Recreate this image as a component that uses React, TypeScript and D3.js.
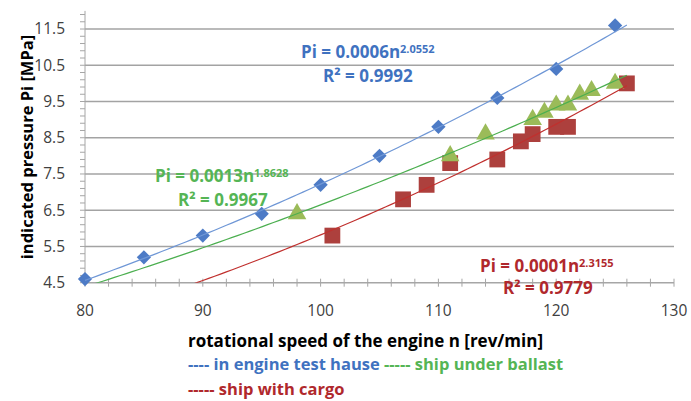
import React from "react";
import * as d3 from "d3";

// readings taken off the original figure
const engineN = [80, 85, 90, 95, 100, 105, 110, 115, 120, 125];
const enginePi = [4.6, 5.2, 5.8, 6.4, 7.2, 8.0, 8.8, 9.6, 10.4, 11.6];
const ballastN = [98, 111, 114, 118, 119, 120, 121, 122, 123, 125];
const ballastPi = [6.4, 8.0, 8.6, 9.0, 9.2, 9.4, 9.4, 9.7, 9.8, 10.0];
const cargoN = [101, 107, 109, 111, 115, 117, 118, 120, 121, 126];
const cargoPi = [5.8, 6.8, 7.2, 7.8, 7.9, 8.4, 8.6, 8.8, 8.8, 10.0];

const xTicks = [80, 90, 100, 110, 120, 130];
const yTicks = [4.5, 5.5, 6.5, 7.5, 8.5, 9.5, 10.5, 11.5];
const trendRange = [80, 126];

const eqCoef = ["0.0006", "0.0013", "0.0001"];
const eqExp = ["2.0552", "1.8628", "2.3155"];
const eqR2 = ["0.9992", "0.9967", "0.9779"];

const W = 691;
const H = 401;
const margin = { left: 85, right: 17, top: 10.9, bottom: 118.3 };
const font = "'Open Sans', 'DejaVu Sans', sans-serif";

// Excel style power trendline: least squares on ln(y) = ln(a) + b ln(x)
function powerFit(xs, ys) {
    const lx = xs.map(Math.log);
    const ly = ys.map(Math.log);
    const mx = d3.mean(lx);
    const my = d3.mean(ly);
    const b = d3.sum(lx, (v, i) => (v - mx) * (ly[i] - my)) / d3.sum(lx, v => (v - mx) ** 2);
    const a = Math.exp(my - b * mx);
    return (n) => a * Math.pow(n, b);
}

function Equation({ x, y, color, coef, exp, r2, r2dx, gap = 24 }) {
    return (
        <g fill={color} fontFamily={font} fontWeight="bold">
            <text x={x} y={y} fontSize="17px">
                Pi = {coef}n
                <tspan fontSize="11px" dy="-5">{exp}</tspan>
            </text>
            <text x={x + r2dx} y={y + gap} fontSize="17px">
                R² = {r2}
            </text>
        </g>
    );
}

export default function App() {
    const x = d3.scaleLinear().domain([80, 130]).range([margin.left, W - margin.right]);
    const y = d3.scaleLinear().domain([4.5, 12]).range([H - margin.bottom, margin.top]);

    const series = [
        { key: "cargo", ns: cargoN, ps: cargoPi, marker: "#AD403D", line: "#C0302E" },
        { key: "ballast", ns: ballastN, ps: ballastPi, marker: "#9BBB59", line: "#4CAF50" },
        { key: "engine", ns: engineN, ps: enginePi, marker: "#4D7BC6", line: "#6F97D6" },
    ];

    const fitPts = d3.range(trendRange[0], trendRange[1] + 0.01, 0.5);
    const line = d3.line().x(d => x(d[0])).y(d => y(d[1]));

    const minorX = d3.range(80, 130.1, 2);
    const minorY = d3.range(4.5, 12.0, 0.2);

    const diamond = d3.symbol().type(d3.symbolDiamond2).size(130)();
    const square = d3.symbol().type(d3.symbolSquare).size(250)();
    const triangle = d3.symbol().type(d3.symbolTriangle).size(150)();

    const x0 = x.range()[0];
    const x1 = x.range()[1];
    const yb = y(4.5);

    return (
        <div style={{ position: "absolute", left: 0, top: 0 }}>
            <svg width={W} height={H} style={{ display: "block", background: "white" }}>
                <defs>
                    <clipPath id="plot-clip">
                        <rect x={x0} y={y(12)} width={x1 - x0} height={yb - y(12)} />
                    </clipPath>
                </defs>

                {/* gridlines */}
                {yTicks.slice(1).map(t => (
                    <line key={t} x1={x0} x2={x1} y1={y(t)} y2={y(t)} stroke="#A3A3A3" strokeWidth={1.5} />
                ))}

                {/* y axis */}
                <line x1={x0} x2={x0} y1={y(12)} y2={yb} stroke="#A6A6A6" strokeWidth={1} />
                {minorY.map(t => (
                    <line key={t} x1={x0 - 5} x2={x0} y1={y(t)} y2={y(t)} stroke="#A6A6A6" strokeWidth={1} />
                ))}
                {yTicks.map(t => (
                    <text key={t} x={65} y={y(t)} dy="0.35em" textAnchor="end" fontFamily={font}
                        fontSize="15.5px" fill="#404040">
                        {t.toFixed(1)}
                    </text>
                ))}

                {/* x axis */}
                <line x1={x0} x2={x1} y1={yb} y2={yb} stroke="#A6A6A6" strokeWidth={1.5} />
                {minorX.map(t => (
                    <line key={t} x1={x(t)} x2={x(t)} y1={yb - 4} y2={yb + 4} stroke="#A6A6A6" strokeWidth={1} />
                ))}
                {xTicks.map(t => (
                    <text key={t} x={x(t)} y={316} textAnchor="middle" fontFamily={font}
                        fontSize="15.5px" fill="#404040">
                        {t}
                    </text>
                ))}

                {/* markers */}
                {series.map(s => (
                    <g key={s.key} fill={s.marker}>
                        {s.ns.map((n, i) => (
                            <path
                                key={i}
                                transform={`translate(${x(n)},${y(s.ps[i])})`}
                                d={s.key === "engine" ? diamond : s.key === "cargo" ? square : triangle}
                            />
                        ))}
                    </g>
                ))}

                {/* power trendlines */}
                <g clipPath="url(#plot-clip)" fill="none">
                    {series.map(s => {
                        const f = powerFit(s.ns, s.ps);
                        return (
                            <path key={s.key} d={line(fitPts.map(n => [n, f(n)]))} stroke={s.line} strokeWidth={1.2} />
                        );
                    })}
                </g>

                <Equation x={301} y={57.7} color="#3F72C0" coef={eqCoef[0]} exp={eqExp[0]} r2={eqR2[0]} r2dx={22} />
                <Equation x={155} y={181.7} color="#55B555" coef={eqCoef[1]} exp={eqExp[1]} r2={eqR2[1]} r2dx={23} />
                <Equation x={480} y={272} color="#B0282C" coef={eqCoef[2]} exp={eqExp[2]} r2={eqR2[2]} r2dx={23} gap={22} />

                {/* axis titles */}
                <text
                    transform="translate(33,147) rotate(-90)"
                    textAnchor="middle"
                    fontFamily={font}
                    fontWeight="bold"
                    fontSize="16.5px"
                    fill="#000"
                >
                    indicated pressure Pi [MPa]
                </text>
                <text x={188} y={347} fontFamily={font} fontWeight="bold" fontSize="17px" fill="#000">
                    rotational speed of the engine n [rev/min]
                </text>

                {/* legend text */}
                <text x={188} y={370} fontFamily={font} fontWeight="bold" fontSize="16.5px">
                    <tspan fill="#3F72C0">---- in engine test hause </tspan>
                    <tspan fill="#55B555">----- ship under ballast</tspan>
                </text>
                <text x={188} y={395} fontFamily={font} fontWeight="bold" fontSize="16.5px" fill="#B0282C">
                    ----- ship with cargo
                </text>
            </svg>
        </div>
    );
}
